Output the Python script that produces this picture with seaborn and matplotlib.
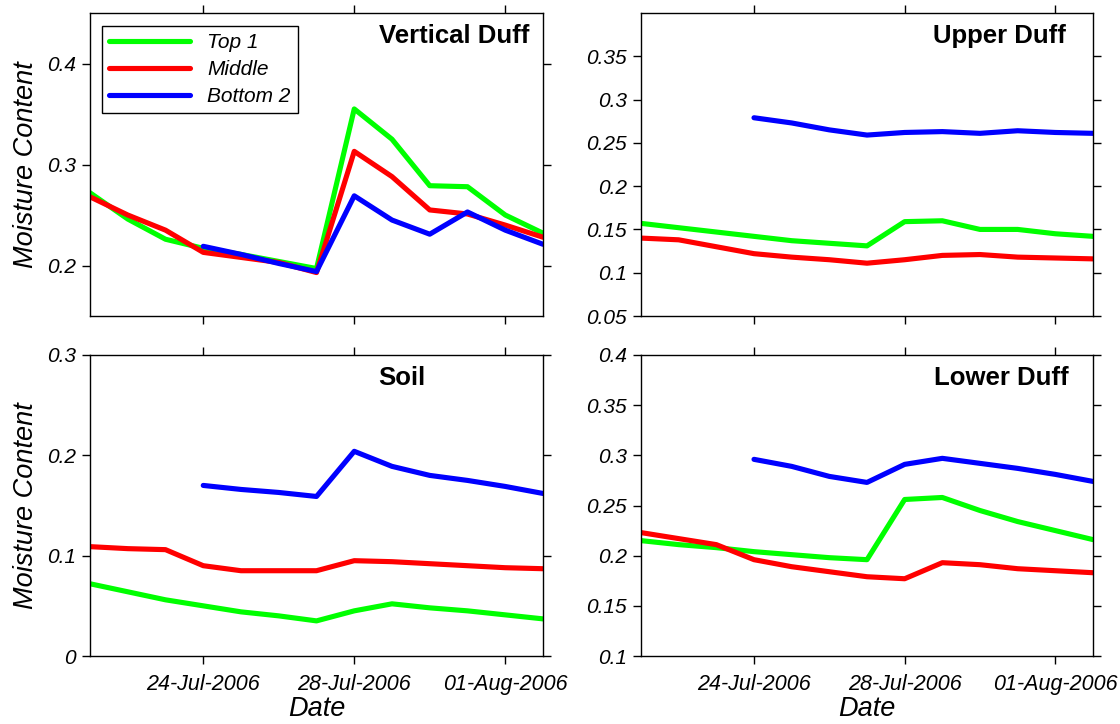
import numpy as np
import pandas as pd
import matplotlib
matplotlib.use("Agg")
import matplotlib.pyplot as plt
import matplotlib.dates as mdates
import seaborn as sns

dates = ["2006-07-21", "2006-07-22", "2006-07-23", "2006-07-24", "2006-07-25",
         "2006-07-26", "2006-07-27", "2006-07-28", "2006-07-29", "2006-07-30",
         "2006-07-31", "2006-08-01", "2006-08-02"]
series_names = ["Top 1", "Middle", "Bottom 2"]
nan = np.nan

vd_top = [0.272, 0.246, 0.226, 0.217, 0.211, 0.204, 0.197, 0.355, 0.325, 0.279, 0.278, 0.250, 0.232]
vd_mid = [0.268, 0.250, 0.235, 0.213, 0.208, 0.203, 0.193, 0.313, 0.288, 0.255, 0.251, 0.240, 0.228]
vd_bot = [nan, nan, nan, 0.219, 0.211, 0.202, 0.194, 0.269, 0.245, 0.231, 0.253, 0.235, 0.221]

ud_top = [0.157, 0.152, 0.147, 0.142, 0.137, 0.134, 0.131, 0.159, 0.160, 0.150, 0.150, 0.145, 0.142]
ud_mid = [0.140, 0.138, 0.130, 0.122, 0.118, 0.115, 0.111, 0.115, 0.120, 0.121, 0.118, 0.117, 0.116]
ud_bot = [nan, nan, nan, 0.279, 0.273, 0.265, 0.259, 0.262, 0.263, 0.261, 0.264, 0.262, 0.261]

soil_top = [0.072, 0.064, 0.056, 0.050, 0.044, 0.040, 0.035, 0.045, 0.052, 0.048, 0.045, 0.041, 0.037]
soil_mid = [0.109, 0.107, 0.106, 0.090, 0.085, 0.085, 0.085, 0.095, 0.094, 0.092, 0.090, 0.088, 0.087]
soil_bot = [nan, nan, nan, 0.170, 0.166, 0.163, 0.159, 0.204, 0.189, 0.180, 0.175, 0.169, 0.162]

ld_top = [0.215, 0.211, 0.208, 0.204, 0.201, 0.198, 0.196, 0.256, 0.258, 0.245, 0.234, 0.225, 0.216]
ld_mid = [0.223, 0.217, 0.211, 0.196, 0.189, 0.184, 0.179, 0.177, 0.193, 0.191, 0.187, 0.185, 0.183]
ld_bot = [nan, nan, nan, 0.296, 0.289, 0.279, 0.273, 0.291, 0.297, 0.292, 0.287, 0.281, 0.274]

panels = [
    ("Vertical Duff", [vd_top, vd_mid, vd_bot], (0.15, 0.45), [0.2, 0.3, 0.4]),
    ("Upper Duff", [ud_top, ud_mid, ud_bot], (0.05, 0.40), [0.05, 0.1, 0.15, 0.2, 0.25, 0.3, 0.35]),
    ("Soil", [soil_top, soil_mid, soil_bot], (0.0, 0.3), [0, 0.1, 0.2, 0.3]),
    ("Lower Duff", [ld_top, ld_mid, ld_bot], (0.1, 0.4), [0.1, 0.15, 0.2, 0.25, 0.3, 0.35, 0.4]),
]
ytick_labels = {
    "Vertical Duff": ["0.2", "0.3", "0.4"],
    "Upper Duff": ["0.05", "0.1", "0.15", "0.2", "0.25", "0.3", "0.35"],
    "Soil": ["0", "0.1", "0.2", "0.3"],
    "Lower Duff": ["0.1", "0.15", "0.2", "0.25", "0.3", "0.35", "0.4"],
}
xtick_dates = ["2006-07-24", "2006-07-28", "2006-08-01"]

sns.set_style("ticks")
plt.rcParams["font.family"] = ["Liberation Sans", "DejaVu Sans"]
for key in ["text.color", "axes.labelcolor", "xtick.color", "ytick.color", "axes.edgecolor"]:
    plt.rcParams[key] = "black"

palette = {"Top 1": "#00ff00", "Middle": "#ff0000", "Bottom 2": "#0000ff"}

W, H = 1120, 724
fig = plt.figure(figsize=(W / 100, H / 100), dpi=100)

def frac(x0, y0, x1, y1):
    return [x0 / W, 1 - y1 / H, (x1 - x0) / W, (y1 - y0) / H]

rects = [frac(90, 13, 543, 316), frac(641, 13, 1093, 316),
         frac(90, 355, 543, 656), frac(641, 355, 1093, 656)]
title_pos = [(0.97, 0.925, "right"), (0.94, 0.925, "right"),
             (0.688, 0.925, "center"), (0.945, 0.925, "right")]

date_index = pd.to_datetime(dates)
for i, (title, vals, ylim, yticks) in enumerate(panels):
    ax = fig.add_axes(rects[i])
    rows = []
    for name, v in zip(series_names, vals):
        for d, y in zip(date_index, v):
            rows.append({"Date": d, "Moisture": y, "Series": name})
    df = pd.DataFrame(rows).dropna()
    sns.lineplot(data=df, x="Date", y="Moisture", hue="Series",
                 hue_order=series_names, palette=palette, linewidth=3.7,
                 ax=ax, legend=(i == 0))
    ax.set_xlim(pd.Timestamp("2006-07-21"), pd.Timestamp("2006-08-02"))
    ax.set_ylim(*ylim)
    ax.set_yticks(yticks)
    ax.set_yticklabels(ytick_labels[title], fontsize=15, style="italic")
    ax.set_xticks(pd.to_datetime(xtick_dates))
    ax.xaxis.set_major_formatter(mdates.DateFormatter("%d-%b-%Y"))
    for lab in ax.get_xticklabels():
        lab.set_fontstyle("italic")
        lab.set_fontsize(15.5)
    ax.tick_params(direction="out", top=True, right=True, length=6, width=1,
                   color="black", pad=4)
    ax.tick_params(axis="x", pad=7)
    for s in ax.spines.values():
        s.set_visible(True)
        s.set_linewidth(1.0)
        s.set_color("black")
    if i < 2:
        ax.tick_params(labelbottom=False)
        ax.set_xlabel("")
    else:
        ax.set_xlabel("Date", fontsize=19.5, style="italic", labelpad=1)
    if i % 2 == 0:
        ax.set_ylabel("Moisture Content", fontsize=19.5, style="italic", labelpad=6)
    else:
        ax.set_ylabel("")
    tx, ty, ha = title_pos[i]
    ax.text(tx, ty, title, transform=ax.transAxes, ha=ha, va="center",
            fontsize=18.5, fontweight="bold")
    if i == 0:
        leg = ax.legend(loc="upper left", bbox_to_anchor=(0.026, 0.957),
                        fancybox=False, framealpha=1, edgecolor="black",
                        prop={"style": "italic", "size": 15},
                        handlelength=3.9, borderaxespad=0, borderpad=0.35,
                        labelspacing=0.38, handletextpad=0.8)
        leg.get_frame().set_linewidth(1.0)
        leg.set_title(None)

fig.savefig("out.png", dpi=100)
